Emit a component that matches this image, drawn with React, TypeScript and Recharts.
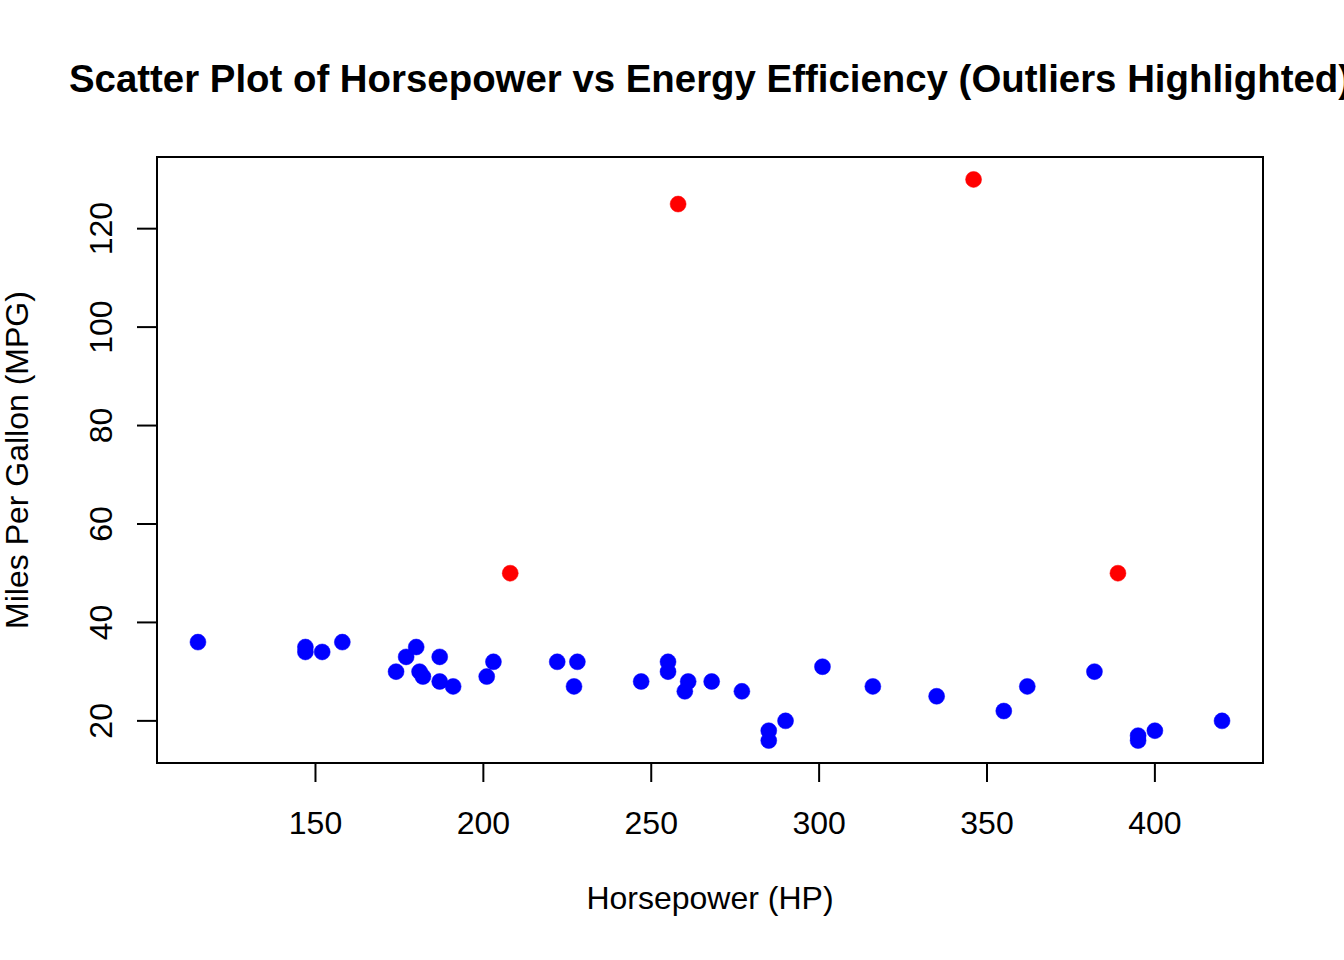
import React from "react";
import { ScatterChart, Scatter, XAxis, YAxis, ReferenceArea } from "recharts";

// Regular observations
const normalHP = [115, 147, 147, 152, 158, 174, 177, 180, 181, 182, 187, 187, 191, 201, 203, 222, 227, 228, 247, 255, 255, 260, 261, 268, 277, 285, 285, 290, 301, 316, 335, 355, 362, 382, 395, 395, 400, 420];
const normalMPG = [36, 35, 34, 34, 36, 30, 33, 35, 30, 29, 33, 28, 27, 29, 32, 32, 27, 32, 28, 32, 30, 26, 28, 28, 26, 18, 16, 20, 31, 27, 25, 22, 27, 30, 17, 16, 18, 20];

// Outliers
const outlierHP = [208, 258, 346, 389];
const outlierMPG = [50, 125, 130, 50];

const xTicks = [150, 200, 250, 300, 350, 400];
const yTicks = [20, 40, 60, 80, 100, 120];

const TITLE = "Scatter Plot of Horsepower vs Energy Efficiency (Outliers Highlighted)";
const X_LABEL = "Horsepower (HP)";
const Y_LABEL = "Miles Per Gallon (MPG)";

const normalData = normalHP.map((hp, i) => ({ hp, mpg: normalMPG[i] }));
const outlierData = outlierHP.map((hp, i) => ({ hp, mpg: outlierMPG[i] }));

const allHP = [...normalHP, ...outlierHP];
const allMPG = [...normalMPG, ...outlierMPG];
const pad = (arr: number[]): [number, number] => {
  const lo = Math.min(...arr);
  const hi = Math.max(...arr);
  const r = hi - lo;
  return [lo - 0.04 * r, hi + 0.04 * r];
};
const xDomain = pad(allHP);
const yDomain = pad(allMPG);

const FONT = "'Liberation Sans', Arial, Helvetica, sans-serif";

const XTick = (props: any) => {
  const { x, y, payload } = props;
  return (
    <text x={x} y={y + 50} textAnchor="middle" fontFamily={FONT} fontSize={32} fill="#000">
      {payload.value}
    </text>
  );
};

const YTick = (props: any) => {
  const { x, y, payload } = props;
  const tx = x - 23;
  return (
    <text
      x={tx}
      y={y}
      textAnchor="middle"
      transform={`rotate(-90, ${tx}, ${y})`}
      fontFamily={FONT}
      fontSize={32}
      fill="#000"
    >
      {payload.value}
    </text>
  );
};

const dot = (color: string) => (props: any) => (
  <circle cx={props.cx} cy={props.cy} r={8} fill={color} stroke={color} strokeWidth={0.5} />
);

export default function App() {
  return (
    <div style={{ position: "absolute", left: 0, top: 0, width: 1344, height: 960, background: "#fff" }}>
      <ScatterChart
        width={1344}
        height={960}
        margin={{ top: 157, right: 81, bottom: 137, left: 97 }}
      >
        <XAxis
          type="number"
          dataKey="hp"
          domain={xDomain}
          ticks={xTicks}
          allowDataOverflow
          height={60}
          axisLine={false}
          tickSize={19}
          tickLine={{ stroke: "#000", strokeWidth: 2 }}
          tick={<XTick />}
          interval={0}
        />
        <YAxis
          type="number"
          dataKey="mpg"
          domain={yDomain}
          ticks={yTicks}
          allowDataOverflow
          width={60}
          axisLine={false}
          tickSize={20}
          tickLine={{ stroke: "#000", strokeWidth: 2 }}
          tick={<YTick />}
          interval={0}
        />
        <ReferenceArea
          x1={xDomain[0]}
          x2={xDomain[1]}
          y1={yDomain[0]}
          y2={yDomain[1]}
          fill="none"
          fillOpacity={0}
          stroke="#000"
          strokeWidth={2}
          strokeOpacity={1}
          ifOverflow="visible"
        />
        <Scatter data={normalData} fill="#0000FF" shape={dot("#0000FF")} isAnimationActive={false} />
        <Scatter data={outlierData} fill="#FF0000" shape={dot("#FF0000")} isAnimationActive={false} />
      </ScatterChart>
      <svg
        width={1344}
        height={960}
        style={{ position: "absolute", left: 0, top: 0, pointerEvents: "none" }}
      >
        <text x={710} y={92} textAnchor="middle" fontFamily={FONT} fontSize={38.4} fontWeight="bold" fill="#000">
          {TITLE}
        </text>
        <text x={710} y={909} textAnchor="middle" fontFamily={FONT} fontSize={32} fill="#000">
          {X_LABEL}
        </text>
        <text
          x={28}
          y={460}
          textAnchor="middle"
          transform="rotate(-90, 28, 460)"
          fontFamily={FONT}
          fontSize={32}
          fill="#000"
        >
          {Y_LABEL}
        </text>
      </svg>
    </div>
  );
}
